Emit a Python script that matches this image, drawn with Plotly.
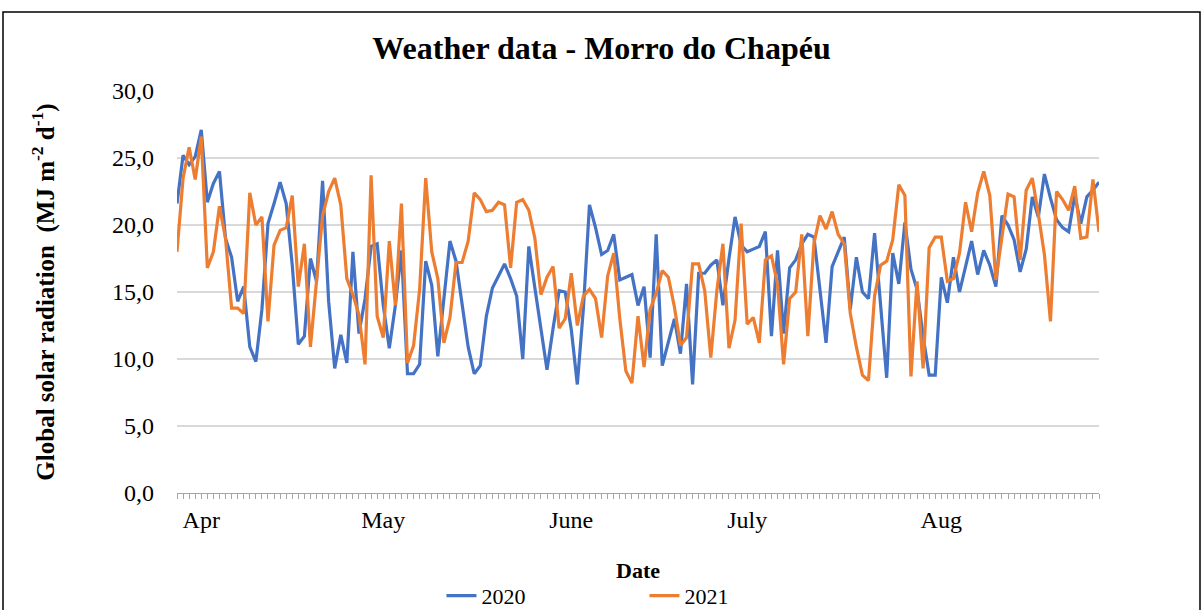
import plotly.graph_objects as go

# ---- data (daily global solar radiation, MJ m-2 d-1), 1 Apr .. 31 Aug ----
rad_2020 = [
    21.6, 25.2, 24.5, 25.1, 27.1, 21.7, 23.1, 24.0, 19.0, 17.6,
    14.3, 15.4, 10.9, 9.8, 13.7, 20.1, 21.6, 23.2, 21.6, 17.0,
    11.1, 11.7, 17.5, 15.8, 23.3, 14.3, 9.3, 11.8, 9.7, 18.0,
    11.9, 14.5, 18.4, 18.6, 14.0, 10.8, 14.0, 18.1, 8.9, 8.9,
    9.6, 17.3, 15.5, 10.2, 14.5, 18.8, 17.3, 14.0, 10.9, 8.9,
    9.5, 13.2, 15.3, 16.2, 17.1, 16.0, 14.7, 10.0, 18.4, 15.3,
    12.3, 9.2, 12.3, 15.1, 15.0, 12.2, 8.1, 13.8, 21.5, 19.8,
    17.8, 18.1, 19.3, 15.9, 16.1, 16.3, 14.0, 15.4, 10.1, 19.3,
    9.5, 11.2, 13.0, 10.4, 15.6, 8.1, 16.4, 16.4, 17.0, 17.4,
    14.0, 17.5, 20.6, 18.5, 18.0, 18.2, 18.4, 19.5, 11.7, 18.1,
    11.9, 16.8, 17.4, 18.6, 19.3, 19.1, 15.0, 11.2, 16.9, 18.0,
    19.1, 13.7, 17.6, 15.0, 14.5, 19.4, 14.1, 8.6, 17.9, 15.6,
    20.2, 16.7, 15.2, 11.7, 8.8, 8.8, 16.1, 14.2, 17.6, 15.0,
    16.9, 18.8, 16.3, 18.1, 17.0, 15.4, 20.7, 20.0, 18.9, 16.5,
    18.2, 22.1, 20.6, 23.8, 22.0, 20.4, 19.8, 19.5, 22.2, 20.1,
    22.1, 22.6, 23.2,
]
rad_2021 = [
    18.0, 23.5, 25.8, 23.4, 26.6, 16.8, 18.0, 21.4, 19.0, 13.8,
    13.8, 13.4, 22.4, 20.0, 20.6, 12.8, 18.5, 19.6, 19.8, 22.2,
    15.4, 18.6, 10.9, 15.8, 20.7, 22.5, 23.5, 21.5, 16.0, 14.8,
    13.3, 9.6, 23.7, 13.2, 11.6, 18.8, 14.0, 21.6, 9.7, 11.0,
    15.2, 23.5, 18.0, 16.0, 11.2, 13.1, 17.2, 17.2, 18.8, 22.4,
    21.9, 21.0, 21.1, 21.7, 21.5, 16.8, 21.7, 21.9, 21.1, 19.0,
    14.8, 16.1, 16.9, 12.3, 13.0, 16.4, 12.5, 14.7, 15.2, 14.5,
    11.6, 16.2, 17.9, 13.0, 9.1, 8.2, 13.2, 9.4, 13.7, 14.9,
    16.6, 16.1, 13.9, 11.0, 11.6, 17.1, 17.1, 15.1, 10.1, 15.1,
    18.6, 10.8, 12.9, 20.1, 12.6, 13.1, 11.2, 17.4, 17.7, 15.6,
    9.6, 14.5, 15.0, 19.3, 11.7, 18.6, 20.7, 19.7, 21.0, 19.3,
    18.6, 13.4, 10.9, 8.8, 8.4, 14.7, 17.0, 17.3, 18.9, 23.0,
    22.2, 8.7, 15.8, 9.3, 18.3, 19.1, 19.1, 15.8, 16.0, 17.9,
    21.7, 19.5, 22.4, 24.0, 22.2, 15.9, 19.0, 22.3, 22.1, 17.4,
    22.6, 23.5, 20.8, 17.8, 12.8, 22.5, 21.9, 21.1, 22.9, 19.0,
    19.1, 23.4, 19.5,
]
day_index = list(range(len(rad_2020)))
month_labels = ["Apr", "May", "June", "July", "Aug"]
month_label_days = [4, 34, 65, 94, 126]
y_ticks = [0, 5, 10, 15, 20, 25, 30]

SERIF = "Liberation Serif, Times New Roman, serif"

fig = go.Figure()
fig.add_trace(go.Scatter(x=day_index, y=rad_2020, mode="lines", name="2020",
                         line=dict(color="#4472C4", width=3.2)))
fig.add_trace(go.Scatter(x=day_index, y=rad_2021, mode="lines", name="2021",
                         line=dict(color="#ED7D31", width=3.2)))

tickvals = day_index
ticktext = []
for d in day_index:
    if d in month_label_days:
        ticktext.append(month_labels[month_label_days.index(d)])
    else:
        ticktext.append("")

fig.update_layout(
    width=1203, height=610,
    margin=dict(l=177, r=104, t=91, b=117, autoexpand=False),
    paper_bgcolor="white", plot_bgcolor="white",
    separators=",.",
    font=dict(family=SERIF, color="black"),
    title=dict(text="<b>Weather data - Morro do Chapéu</b>",
               x=0.5, xanchor="center", y=0.922, yanchor="middle",
               font=dict(family=SERIF, size=32, color="black")),
    showlegend=True,
    legend=dict(orientation="h", x=0.507, xanchor="center", y=-0.256, yanchor="middle",
                font=dict(family=SERIF, size=22, color="black"),
                entrywidth=158, entrywidthmode="pixels",
                bgcolor="rgba(0,0,0,0)"),
    xaxis=dict(
        range=[0, len(day_index) - 1], automargin=False,
        tickmode="array", tickvals=tickvals, ticktext=ticktext, tickangle=0,
        ticks="outside", ticklen=5, tickwidth=1, tickcolor="#a6a6a6",
        showline=True, linecolor="#a6a6a6", linewidth=1,
        showgrid=False, zeroline=False,
        tickfont=dict(family=SERIF, size=24, color="black"),
        title=dict(text="<b>Date</b>", standoff=30,
                   font=dict(family=SERIF, size=22, color="black")),
    ),
    yaxis=dict(
        range=[0, 30], tickmode="array", tickvals=y_ticks, automargin=False,
        tickformat=".1f",
        showgrid=True, gridcolor="#d9d9d9", gridwidth=1.5,
        showline=False, zeroline=False, ticks="",
        ticklabelstandoff=22,
        tickfont=dict(family=SERIF, size=24, color="black"),
        title=dict(text="<b>Global solar radiation  (MJ m<sup>-2</sup> d<sup>-1</sup>)</b>",
                   standoff=50,
                   font=dict(family=SERIF, size=25, color="black")),
    ),
)

# chart frame
fig.add_shape(type="rect", xref="paper", yref="paper",
              x0=(3 - 177) / 922, x1=(1200 - 177) / 922,
              y0=(493 - 640) / 402, y1=(493 - 12) / 402,
              line=dict(color="black", width=1.5), fillcolor="rgba(0,0,0,0)",
              layer="below")

fig.write_html("out.html", config={"displayModeBar": False},
               post_script="document.body.style.margin='0px';")
